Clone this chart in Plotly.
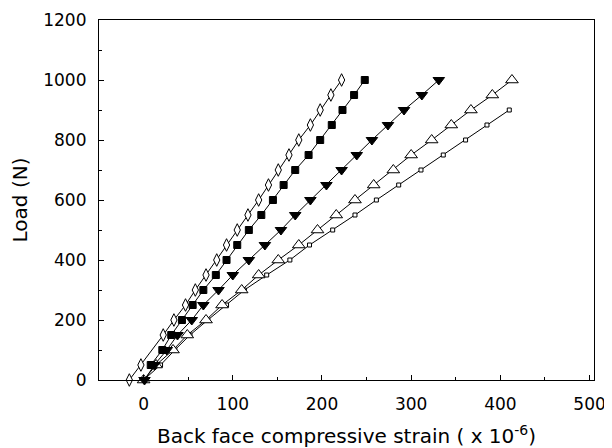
import plotly.graph_objects as go

# Load (N) and back-face compressive strain (x 1e-6) for each specimen series
diamond_load = [0, 50, 150, 200, 250, 300, 350, 400, 450, 500, 550, 600, 650, 700, 750, 800, 850, 900, 950, 1000]
diamond_strain = [-16, -3, 22, 34, 47, 58, 70, 82, 93, 105, 117, 129, 140, 151, 163, 174, 187, 198, 210, 222]

fsquare_load = [50, 100, 150, 200, 250, 300, 350, 400, 450, 500, 550, 600, 650, 700, 750, 800, 850, 900, 950, 1000]
fsquare_strain = [8, 21, 31, 43, 55, 67, 81, 93, 105, 118, 132, 145, 157, 170, 185, 198, 211, 223, 236, 248]

ftri_load = [0, 50, 100, 150, 200, 250, 300, 350, 400, 450, 500, 550, 600, 650, 700, 750, 800, 850, 900, 950, 1000]
ftri_strain = [1, 12, 26, 38, 54, 67, 84, 100, 118, 136, 154, 170, 187, 205, 222, 239, 256, 274, 292, 312, 331]

otri_load = [0, 50, 100, 150, 200, 250, 300, 350, 400, 450, 500, 550, 600, 650, 700, 750, 800, 850, 900, 950, 1000]
otri_strain = [0, 14, 33, 49, 70, 88, 110, 129, 151, 174, 195, 216, 237, 258, 280, 300, 323, 345, 367, 391, 413]

osq_load = [0, 50, 100, 150, 200, 250, 300, 350, 400, 450, 500, 550, 600, 650, 700, 750, 800, 850, 900]
osq_strain = [0, 19, 35, 52, 72, 93, 113, 138, 164, 186, 212, 237, 261, 286, 311, 336, 361, 385, 410]

x_ticks = [0, 100, 200, 300, 400, 500]
y_ticks = [0, 200, 400, 600, 800, 1000, 1200]

FONT = "DejaVu Sans, Verdana, sans-serif"
FS = 17
TFS = 20

fig = go.Figure()

def add(xs, ys, symbol, size, fill, lw=1):
    fig.add_trace(go.Scatter(
        x=xs, y=ys, mode="lines+markers",
        line=dict(color="black", width=1),
        marker=dict(symbol=symbol, size=size, color=fill,
                    line=dict(color="black", width=lw)),
        cliponaxis=False, showlegend=False,
    ))

add(osq_strain, osq_load, "square", 4, "white")
add(otri_strain, otri_load, "triangle-up", 11, "white")
add(ftri_strain, ftri_load, "triangle-down", 10, "black")
add(fsquare_strain, fsquare_load, "square", 7, "black")
add(diamond_strain, diamond_load, "diamond-tall", 9, "white")

axis_common = dict(
    showgrid=False, zeroline=False, showline=True, linecolor="black",
    linewidth=1.2, mirror=True, ticks="inside", tickcolor="black",
    ticklen=5, tickwidth=1, tickfont=dict(family=FONT, size=FS, color="black"),
    automargin=False,
)

fig.update_xaxes(
    range=[-50, 505], tickvals=x_ticks, ticktext=[str(v) for v in x_ticks],
    minor=dict(ticks="inside", dtick=50, tick0=0, ticklen=3, tickcolor="black"),
    title=dict(text="Back face compressive strain ( x 10<sup>-6</sup>)",
               font=dict(family=FONT, size=TFS, color="black"), standoff=20),
    ticklabelstandoff=8,
    **axis_common,
)
fig.update_yaxes(
    range=[0, 1200], tickvals=y_ticks, ticktext=[str(v) for v in y_ticks],
    minor=dict(ticks="inside", dtick=100, tick0=0, ticklen=3, tickcolor="black"),
    title=dict(text="Load (N)", font=dict(family=FONT, size=TFS, color="black"), standoff=12),
    ticklabelstandoff=8,
    **axis_common,
)

# the page body adds an 8px offset, so the figure is sized to fit the window
fig.update_layout(
    width=604, height=440,
    margin=dict(l=91, r=18, t=12, b=68),
    paper_bgcolor="white", plot_bgcolor="white",
    font=dict(family=FONT, size=FS, color="black"),
)

fig.write_html("out.html")
